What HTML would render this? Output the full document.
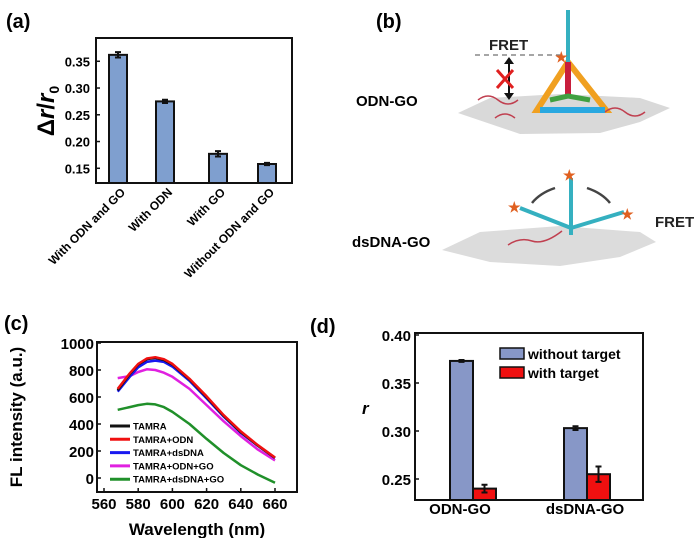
<!DOCTYPE html>
<html><head><meta charset="utf-8"><style>
body{margin:0;background:#fff}
svg{display:block;font-family:"Liberation Sans",Arial,sans-serif;font-weight:bold}
</style></head><body>
<svg id="fig" width="700" height="538" viewBox="0 0 700 538">
<!-- panel labels -->
<text x="6" y="28" font-size="20">(a)</text>
<text x="376" y="28" font-size="20">(b)</text>
<text x="4" y="330" font-size="20">(c)</text>
<text x="310" y="333" font-size="20">(d)</text>

<!-- panel b schematic -->
<g>
<text x="356" y="106" font-size="15">ODN-GO</text>
<text x="352" y="247" font-size="15">dsDNA-GO</text>
<polygon points="458,113 490,98 560,94 640,98 670,108 640,122 600,133 520,134" fill="#d9d9d9"/>
<polygon points="442,250 480,232 560,226 640,232 656,242 620,257 560,266 490,262" fill="#dcdcdc"/>
<line x1="475" y1="55" x2="560" y2="55" stroke="#888" stroke-width="1.5" stroke-dasharray="5,4"/>
<text x="489" y="50" font-size="15" fill="#222">FRET</text>
<line x1="509" y1="60" x2="509" y2="97" stroke="#111" stroke-width="2"/>
<polygon points="504,64 509,57 514,64" fill="#111"/>
<polygon points="504,93 509,100 514,93" fill="#111"/>
<path d="M497,70 L513,88 M513,70 L497,88" stroke="#e02020" stroke-width="3"/>
<path d="M568,62 L537,110 L606,110 Z" fill="none" stroke="#f0a020" stroke-width="6"/>
<line x1="540" y1="110" x2="605" y2="110" stroke="#29a8e0" stroke-width="6"/>
<line x1="568" y1="62" x2="568" y2="98" stroke="#c81e3c" stroke-width="6"/>
<path d="M550,100 L568,96 L590,100" fill="none" stroke="#40a040" stroke-width="5"/>
<line x1="568" y1="10" x2="568" y2="62" stroke="#35b0c0" stroke-width="4"/>
<path d="M478,100 q10,-8 20,0 t20,0 M495,118 q10,-8 20,0 M605,112 q10,-8 20,0 t20,0" fill="none" stroke="#c04050" stroke-width="1.5"/>
<text x="555" y="62" font-size="14" fill="#e06020">★</text>
<line x1="571" y1="178" x2="571" y2="235" stroke="#35b0c0" stroke-width="4"/>
<line x1="520" y1="208" x2="571" y2="228" stroke="#35b0c0" stroke-width="4"/>
<line x1="571" y1="228" x2="624" y2="212" stroke="#35b0c0" stroke-width="4"/>
<path d="M508,245 q12,-8 24,-4 t30,-10" fill="none" stroke="#c04050" stroke-width="1.5"/>
<text x="563" y="180" font-size="14" fill="#e06020">★</text>
<text x="508" y="212" font-size="14" fill="#e06020">★</text>
<text x="621" y="219" font-size="14" fill="#e06020">★</text>
<path d="M555,188 q-15,5 -23,15 M587,188 q15,5 23,15" fill="none" stroke="#444" stroke-width="2.5"/>
<text x="655" y="227" font-size="15" fill="#222">FRET</text>
</g>

<g id="chartA"></g>
<g id="chartC"></g>
<g id="chartD"></g>
</svg>
<script>
const NS="http://www.w3.org/2000/svg";
function mk(p,t,a,txt){const e=document.createElementNS(NS,t);for(const k in a)e.setAttribute(k,a[k]);if(txt!==undefined)e.textContent=txt;p.appendChild(e);return e;}

// ---------- Panel A data ----------
const aCategories=["With ODN and GO","With ODN","With GO","Without ODN and GO"];
const aValues=[0.362,0.275,0.177,0.158];
const aErrors=[0.005,0.003,0.005,0.002];
const aTicks=[0.15,0.20,0.25,0.30,0.35];

// ---------- Panel C data ----------
const cWavelengths=[568,575,580,585,590,595,600,610,620,630,640,650,660];
const cTAMRA=[650,770,840,880,890,875,840,730,600,460,340,240,150];
const cODN=[660,775,845,885,895,880,845,735,605,465,345,243,152];
const cDsDNA=[640,750,820,860,870,860,825,720,590,455,335,238,148];
const cODNGO=[740,755,785,805,800,780,750,660,540,420,310,210,130];
const cDsDNAGO=[505,525,540,550,545,525,490,400,290,185,95,25,-35];
const cSeriesNames=["TAMRA","TAMRA+ODN","TAMRA+dsDNA","TAMRA+ODN+GO","TAMRA+dsDNA+GO"];
const cColors=["#111","#f01010","#1818f0","#e020e0","#20902a"];
const cXTicks=[560,580,600,620,640,660];
const cYTicks=[0,200,400,600,800,1000];

// ---------- Panel D data ----------
const dCategories=["ODN-GO","dsDNA-GO"];
const dWithout=[0.373,0.303];
const dWith=[0.240,0.255];
const dWithoutErr=[0.001,0.002];
const dWithErr=[0.004,0.008];
const dTicks=[0.25,0.30,0.35,0.40];

// Panel A
(function(){
const g=document.getElementById('chartA');
const L=96,R=292,T=38,B=183,vmin=0.1225,vmax=0.3935;
const y=v=>B-(v-vmin)/(vmax-vmin)*(B-T);
const xc=[118,165,218,267];const bw=18;
aValues.forEach((v,i)=>{
 const r=mk(g,'rect',{x:xc[i]-bw/2,y:y(v),width:bw,height:B-y(v),fill:'#7f9fcf',stroke:'#111','stroke-width':2});
 
 
 const e=mk(g,'path',{d:`M${xc[i]},${y(v+aErrors[i])}V${y(v-aErrors[i])}M${xc[i]-3},${y(v+aErrors[i])}h6M${xc[i]-3},${y(v-aErrors[i])}h6`,stroke:'#111','stroke-width':2});
 
 
 const t=mk(g,'text',{x:xc[i]+8,y:B+10,'font-size':12,'text-anchor':'end',transform:`rotate(-45 ${xc[i]+8} ${B+10})`},aCategories[i]);
 
 
});
const f=mk(g,'rect',{x:L,y:T,width:R-L,height:B-T,fill:'none',stroke:'#111','stroke-width':2});


aTicks.forEach(v=>{
 mk(g,'line',{x1:L,x2:L+4,y1:y(v),y2:y(v),stroke:'#111','stroke-width':1.5});
 const t=mk(g,'text',{x:L-6,y:y(v)+5,'font-size':13,'text-anchor':'end'},v.toFixed(2));
 
 
});
const yt=mk(g,'text',{x:0,y:0,'font-size':24,'text-anchor':'middle',transform:'translate(54 111) rotate(-90)'});


yt.innerHTML='Δ<tspan font-style="italic">r</tspan>/<tspan font-style="italic">r</tspan><tspan font-size="14" dy="5">0</tspan>';
})();

// Panel C
(function(){
const g=document.getElementById('chartC');
const L=97,R=297,T=342,B=492;
const x=w=>104+(w-560)*(34.2/20);
const y=v=>478-v*(135/1000);
const series=[cTAMRA,cODN,cDsDNA,cODNGO,cDsDNAGO];
const drawOrder=[3,2,0,1,4];
drawOrder.forEach(si=>{
 const d=cWavelengths.map((w,i)=>(i?'L':'M')+x(w).toFixed(1)+','+y(series[si][i]).toFixed(1)).join('');
 const p=mk(g,'path',{d:d,fill:'none',stroke:cColors[si],'stroke-width':2.5,'stroke-linejoin':'round'});
 
 
});
const f=mk(g,'rect',{x:L,y:T,width:R-L,height:B-T,fill:'none',stroke:'#111','stroke-width':2});


cYTicks.forEach(v=>{
 mk(g,'line',{x1:L,x2:L+4,y1:y(v),y2:y(v),stroke:'#111','stroke-width':1.5});
 const t=mk(g,'text',{x:L-3,y:y(v)+6,'font-size':15,'text-anchor':'end'},v);
 
 
});
cXTicks.forEach(v=>{
 mk(g,'line',{x1:x(v),x2:x(v),y1:B,y2:B-4,stroke:'#111','stroke-width':1.5});
 const t=mk(g,'text',{x:x(v),y:B+17,'font-size':15,'text-anchor':'middle'},v);
 
 
});
const xt=mk(g,'text',{x:197,y:535,'font-size':17,'text-anchor':'middle'},'Wavelength (nm)');


const yt=mk(g,'text',{x:0,y:0,'font-size':17,'text-anchor':'middle',transform:'translate(22 417) rotate(-90)'},'FL intensity (a.u.)');


cSeriesNames.forEach((n,i)=>{
 const yy=426+i*13.3;
 const l=mk(g,'line',{x1:110,x2:130,y1:yy,y2:yy,stroke:cColors[i],'stroke-width':3});
 
 
 const t=mk(g,'text',{x:133,y:yy+3.5,'font-size':9.5},n);
 
 
});
})();

// Panel D
(function(){
const g=document.getElementById('chartD');
const L=415,R=643,T=333,B=500;
const Y=v=>335+(0.40-v)*960;
const groupX=[473,587];const bw=23;
dCategories.forEach((c,i)=>{
 const b1=mk(g,'rect',{x:groupX[i]-bw,y:Y(dWithout[i]),width:bw,height:B-Y(dWithout[i]),fill:'#8797c7',stroke:'#111','stroke-width':2});
 
 
 const b2=mk(g,'rect',{x:groupX[i],y:Y(dWith[i]),width:bw,height:B-Y(dWith[i]),fill:'#f01010',stroke:'#111','stroke-width':2});
 
 
 [[groupX[i]-bw/2,dWithout[i],dWithoutErr[i]],[groupX[i]+bw/2,dWith[i],dWithErr[i]]].forEach(([cx,v,e])=>{
  const p=mk(g,'path',{d:`M${cx},${Y(v+e)}V${Y(v-e)}M${cx-3},${Y(v+e)}h6M${cx-3},${Y(v-e)}h6`,stroke:'#111','stroke-width':2});
  
  
 });
 const t=mk(g,'text',{x:groupX[i]-(i?2:13),y:514,'font-size':15,'text-anchor':'middle'},c);
 
 
});
const f=mk(g,'rect',{x:L,y:T,width:R-L,height:B-T,fill:'none',stroke:'#111','stroke-width':2});


dTicks.forEach(v=>{
 mk(g,'line',{x1:L,x2:L+4,y1:Y(v),y2:Y(v),stroke:'#111','stroke-width':1.5});
 const t=mk(g,'text',{x:L-4,y:Y(v)+6,'font-size':15,'text-anchor':'end'},v.toFixed(2));
 
 
});
const yt=mk(g,'text',{x:362,y:414,'font-size':17,'font-style':'italic'},'r');


const leg=[['without target','#8797c7',349],['with target','#f01010',368]];
leg.forEach(([n,c,yy])=>{
 const s=mk(g,'rect',{x:500,y:yy-1,width:24,height:11,fill:c,stroke:'#111','stroke-width':1.5});
 
 
 const t=mk(g,'text',{x:528,y:yy+10,'font-size':14},n);
 
 
});
})();
</script>
</body></html>
